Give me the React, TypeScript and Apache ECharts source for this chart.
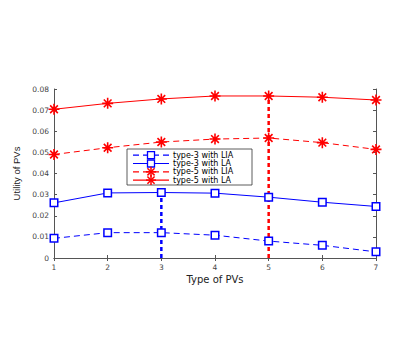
import React, { useEffect, useRef } from "react";
import * as echarts from "echarts";

const pvTypes = [1, 2, 3, 4, 5, 6, 7];
const type3LIA = [0.0093, 0.012, 0.012, 0.0108, 0.008, 0.006, 0.0029];
const type3LA = [0.0261, 0.0308, 0.031, 0.0307, 0.0288, 0.0264, 0.0244];
const type5LIA = [0.049, 0.0522, 0.0549, 0.0563, 0.0568, 0.0546, 0.0514];
const type5LA = [0.0704, 0.0732, 0.0753, 0.0767, 0.0767, 0.0761, 0.0748];
const yTicks = ["0", "0.01", "0.02", "0.03", "0.04", "0.05", "0.06", "0.07", "0.08"];
const seriesNames = ["type-3 with LIA", "type-3 with LA", "type-5 with LIA", "type-5 with LA"];
const seriesColors = ["#0000ff", "#0000ff", "#ff0000", "#ff0000"];
const seriesDashed = [true, false, true, false];
const optType3 = 3;
const optType5 = 5;

const star = "path://M0,-10 L0,10 M-10,0 L10,0 M-7,-7 L7,7 M-7,7 L7,-7";

export default function App() {
  const ref = useRef<HTMLDivElement>(null);
  useEffect(() => {
    const chart = echarts.init(ref.current!, null, { renderer: "svg" });
    const pts = (ys: number[]) => pvTypes.map((x, i) => [x, ys[i]]);
    const font = "DejaVu Sans";
    const dash = [6, 4];
    const mk = (idx: number, ys: number[]) => {
      const color = seriesColors[idx];
      const isStar = idx >= 2;
      return {
        name: seriesNames[idx],
        type: "line",
        data: pts(ys),
        symbol: isStar ? star : "rect",
        symbolSize: isStar ? 11 : 7.5,
        showSymbol: true,
        lineStyle: { color, width: 1, type: seriesDashed[idx] ? dash : "solid" },
        itemStyle: { color: isStar ? color : "#ffffff", borderColor: color, borderWidth: isStar ? 1.6 : 1.5 },
        emphasis: { disabled: true },
        z: 3,
      };
    };
    const vline = (x: number, ys: number[], color: string) => ({
      type: "line",
      data: [[x, 0], [x, ys[pvTypes.indexOf(x)]]],
      symbol: "none",
      lineStyle: { color, width: 2.5, type: [4, 3] },
      silent: true,
      z: 2,
    });

    // manual legend
    const lgX = 127, lgY = 149, lgW = 125, lgH = 36;
    const rowH = 8.3, firstRow = 155.2;
    const legendEls: any[] = [
      {
        type: "rect",
        shape: { x: lgX, y: lgY, width: lgW, height: lgH },
        style: { fill: "#ffffff", stroke: "#333333", lineWidth: 0.8 },
      },
    ];
    seriesNames.forEach((n, i) => {
      const cy = firstRow + i * rowH;
      const c = seriesColors[i];
      legendEls.push({
        type: "line",
        shape: { x1: 133, y1: cy, x2: 169, y2: cy },
        style: { stroke: c, lineWidth: 1.2, lineDash: seriesDashed[i] ? dash : null },
      });
      if (i >= 2) {
        const r = 5;
        const d = 3.6;
        [[0, -r, 0, r], [-r, 0, r, 0], [-d, -d, d, d], [-d, d, d, -d]].forEach((s) =>
          legendEls.push({
            type: "line",
            shape: { x1: 151 + s[0], y1: cy + s[1], x2: 151 + s[2], y2: cy + s[3] },
            style: { stroke: c, lineWidth: 1.5 },
          })
        );
      } else {
        legendEls.push({
          type: "rect",
          shape: { x: 147.5, y: cy - 3.5, width: 7, height: 7 },
          style: { fill: "#ffffff", stroke: c, lineWidth: 1.3 },
        });
      }
      legendEls.push({
        type: "text",
        x: 173,
        y: cy,
        style: {
          text: n,
          font: `8px "${font}"`,
          fill: "#000000",
          verticalAlign: "middle",
        },
      });
    });

    chart.setOption({
      animation: false,
      backgroundColor: "#ffffff",
      grid: { left: 54, right: 39, top: 89, bottom: 96 },
      graphic: [{ type: "group", z: 100, children: legendEls }],
      xAxis: [
        {
          type: "value",
          min: 1,
          max: 7,
          interval: 1,
          name: "Type of PVs",
          nameLocation: "middle",
          nameGap: 16,
          nameTextStyle: { fontFamily: font, fontSize: 10, color: "#222" },
          axisLine: { lineStyle: { color: "#555", width: 1 } },
          axisTick: { inside: true, length: 3, lineStyle: { color: "#555" } },
          axisLabel: { fontFamily: font, fontSize: 7.5, color: "#444", margin: 5 },
          splitLine: { show: false },
        },
        {
          type: "value",
          position: "top",
          min: 1,
          max: 7,
          interval: 1,
          axisLine: { lineStyle: { color: "#555", width: 1 } },
          axisTick: { inside: true, length: 3, lineStyle: { color: "#555" } },
          axisLabel: { show: false },
          splitLine: { show: false },
        },
      ],
      yAxis: [
        {
          type: "value",
          min: 0,
          max: 0.08,
          interval: 0.01,
          name: "Utility of PVs",
          nameLocation: "middle",
          nameGap: 30,
          nameTextStyle: { fontFamily: "Liberation Sans", fontSize: 9.5, color: "#222" },
          axisLine: { show: true, lineStyle: { color: "#555", width: 1 } },
          axisTick: { show: true, inside: true, length: 3, lineStyle: { color: "#555" } },
          axisLabel: {
            fontFamily: font,
            fontSize: 7.5,
            color: "#444",
            margin: 5,
            formatter: (_v: number, i: number) => yTicks[i],
          },
          splitLine: { show: false },
        },
        {
          type: "value",
          position: "right",
          min: 0,
          max: 0.08,
          interval: 0.01,
          axisLine: { show: true, lineStyle: { color: "#555", width: 1 } },
          axisTick: { show: true, inside: true, length: 3, lineStyle: { color: "#555" } },
          axisLabel: { show: false },
          splitLine: { show: false },
        },
      ],
      series: [
        vline(optType3, type3LA, "#0000ff"),
        vline(optType5, type5LA, "#ff0000"),
        mk(0, type3LIA),
        mk(1, type3LA),
        mk(2, type5LIA),
        mk(3, type5LA),
      ],
    });
    return () => chart.dispose();
  }, []);
  return (
    <div
      ref={ref}
      style={{ position: "fixed", left: 0, top: 0, width: 415, height: 354, background: "#fff" }}
    />
  );
}
